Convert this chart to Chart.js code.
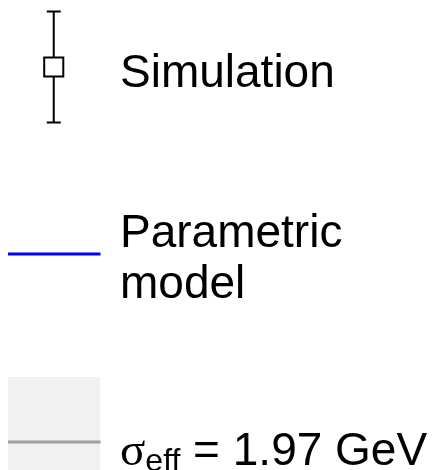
<!DOCTYPE html>
<html>
<head>
<meta charset="utf-8">
<script src="https://cdn.jsdelivr.net/npm/chart.js@4/dist/chart.umd.min.js"></script>
<style>
    html, body { margin: 0; padding: 0; background: #fff; }
    #wrap { position: relative; width: 434px; height: 470px; overflow: hidden; }
    #legend { position: absolute; left: 0; top: 0; width: 434px; height: 470px; }
    .lbl {
        position: absolute;
        left: 120px;
        font-family: "Liberation Sans", Arial, sans-serif;
        font-size: 46px;
        line-height: 46px;
        color: #000;
        white-space: nowrap;
    }
    .sym { font-family: "Liberation Serif", "Times New Roman", serif; font-size: 47px; }
    .sub { font-size: 32px; position: relative; top: 6px; }
</style>
</head>
<body>
<div id="wrap">
    <canvas id="legend" width="434" height="470"></canvas>
    <div class="lbl" id="lbl0"></div>
    <div class="lbl" id="lbl1"></div>
    <div class="lbl" id="lbl2"></div>
</div>
<script>
// legend entries
const entryLabels = ['Simulation', 'Parametric model', 'σeff = 1.97 GeV'];
const sigmaEff = 1.97;           // GeV
const sigmaUnit = 'GeV';

// legend layout (canvas units, y grows downward)
const rowY = [67, 254, 442];         // symbol centre of each row
const symbolX = [8, 100.5];          // symbol span
const errHalf = 55.5;                // error bar half length
const bandTop = 377;                 // top of shaded band
const textBase = [[87], [247, 298], [465]];
const fontPx = 46;

// text as real text
const ascent = 0.8465 * fontPx;
document.getElementById('lbl0').textContent = entryLabels[0];
document.getElementById('lbl0').style.top = (textBase[0][0] - ascent) + 'px';

const parts = entryLabels[1].split(' ');
const lh = textBase[1][1] - textBase[1][0];
document.getElementById('lbl1').innerHTML = parts[0] + '<br>' + parts[1];
document.getElementById('lbl1').style.lineHeight = lh + 'px';
document.getElementById('lbl1').style.top = (textBase[1][0] - ascent - (lh - fontPx) / 2) + 'px';

document.getElementById('lbl2').innerHTML =
    '<span class="sym">σ</span><span class="sub">eff</span> = ' + sigmaEff.toFixed(2) + ' ' + sigmaUnit;
document.getElementById('lbl2').style.top = (textBase[2][0] - ascent) + 'px';

const midX = (symbolX[0] + symbolX[1]) / 2 - 0.5;

// index 0 is drawn on top
const datasets = [
    // simulation marker with error bar
    {
        data: [
            {x: midX, y: rowY[0] - errHalf},
            {x: midX, y: rowY[0]},
            {x: midX, y: rowY[0] + errHalf}
        ],
        showLine: true,
        borderColor: '#000',
        borderWidth: 2,
        pointStyle: ['line', 'rect', 'line'],
        pointRadius: [7, 13.5, 7],
        pointBorderWidth: 2,
        pointBorderColor: '#000',
        pointBackgroundColor: '#fff'
    },
    // blue model line
    {
        data: [{x: symbolX[0], y: rowY[1]}, {x: symbolX[1], y: rowY[1]}],
        showLine: true,
        borderColor: '#0000ff',
        borderWidth: 3,
        pointRadius: 0
    },
    // grey central line
    {
        data: [{x: symbolX[0], y: rowY[2]}, {x: symbolX[1], y: rowY[2]}],
        showLine: true,
        borderColor: '#a0a0a0',
        borderWidth: 3,
        pointRadius: 0
    },
    // shaded band
    {
        data: [{x: symbolX[0], y: bandTop}, {x: symbolX[1], y: bandTop}],
        showLine: true,
        borderWidth: 0,
        pointRadius: 0,
        backgroundColor: '#f1f1f1',
        fill: {value: 470}
    }
];

new Chart(document.getElementById('legend').getContext('2d'), {
    type: 'scatter',
    data: { datasets: datasets },
    options: {
        responsive: false,
        animation: false,
        devicePixelRatio: 1,
        layout: { padding: 0, autoPadding: false },
        plugins: {
            legend: { display: false },
            tooltip: { enabled: false }
        },
        scales: {
            x: { type: 'linear', display: false, min: 0, max: 434 },
            y: { type: 'linear', display: false, min: 0, max: 470, reverse: true }
        }
    }
});
</script>
</body>
</html>
